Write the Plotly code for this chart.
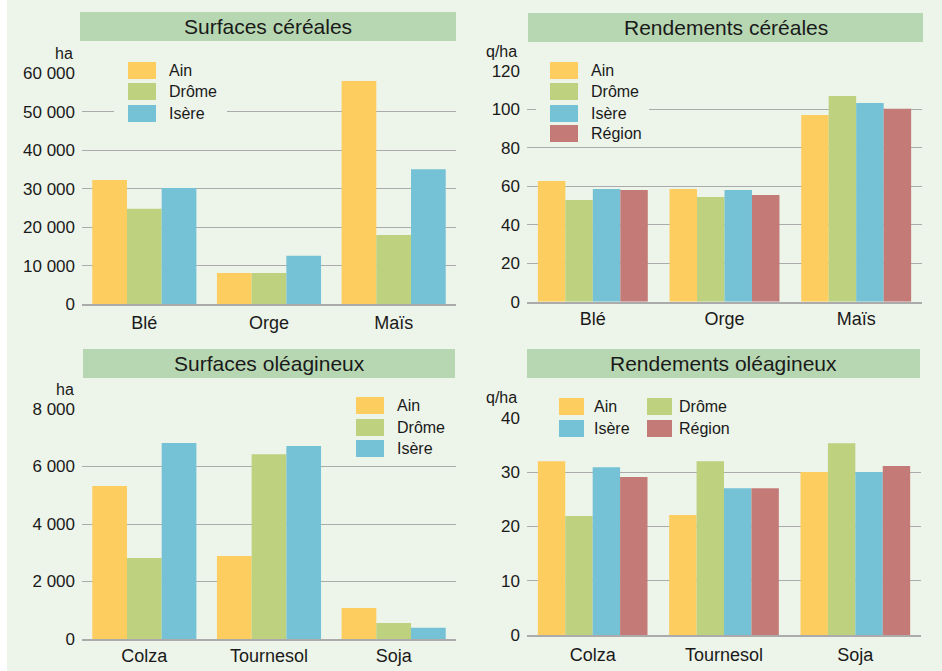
import plotly.graph_objects as go

# ---------------- data ----------------
cereals = ["Blé", "Orge", "Maïs"]
surf_cer_ain = [32300, 8100, 58000]
surf_cer_drome = [24800, 8100, 18000]
surf_cer_isere = [30200, 12600, 35100]

rend_cer_ain = [62.8, 58.6, 97.1]
rend_cer_drome = [52.9, 54.5, 107.0]
rend_cer_isere = [58.6, 58.1, 103.4]
rend_cer_region = [58.1, 55.5, 100.3]

oleag = ["Colza", "Tournesol", "Soja"]
surf_ol_ain = [5320, 2890, 1080]
surf_ol_drome = [2820, 6430, 560]
surf_ol_isere = [6820, 6710, 390]

rend_ol_ain = [32.0, 22.1, 30.0]
rend_ol_drome = [21.9, 32.0, 35.3]
rend_ol_isere = [30.9, 27.0, 30.0]
rend_ol_region = [29.1, 27.0, 31.1]

titles = ["Surfaces céréales", "Rendements céréales", "Surfaces oléagineux", "Rendements oléagineux"]
units = ["ha", "q/ha", "ha", "q/ha"]

# ---------------- styles ----------------
W, H = 942, 671
BG = "#EDF4E9"
TITLE_BG = "#B7D7B2"
GRID = "#ABABAB"
TXT = "#1a1a1a"
FONT = "Liberation Sans, Arial, sans-serif"
COL = {"Ain": "#FDCD5F", "Drôme": "#BDD17F", "Isère": "#75C2D6", "Région": "#C47B78"}


def fx(p):
    return p / W


def fy(p):
    return 1 - p / H


fig = go.Figure()

panels = [
    dict(cats=cereals, series=[("Ain", surf_cer_ain), ("Drôme", surf_cer_drome), ("Isère", surf_cer_isere)],
         x=(82, 456), y=(304.3, 73.3), rng=[0, 60000], dtick=10000, fmt=",d", xoff=1),
    dict(cats=cereals, series=[("Ain", rend_cer_ain), ("Drôme", rend_cer_drome), ("Isère", rend_cer_isere),
                               ("Région", rend_cer_region)],
         x=(527, 922), y=(301.7, 71), rng=[0, 120], dtick=20, fmt="d", xoff=0),
    dict(cats=oleag, series=[("Ain", surf_ol_ain), ("Drôme", surf_ol_drome), ("Isère", surf_ol_isere)],
         x=(82, 456), y=(639, 409), rng=[0, 8000], dtick=2000, fmt=",d", xoff=0),
    dict(cats=oleag, series=[("Ain", rend_ol_ain), ("Drôme", rend_ol_drome), ("Isère", rend_ol_isere),
                             ("Région", rend_ol_region)],
         x=(527, 921), y=(635, 417.7), rng=[0, 40], dtick=10, fmt="d", xoff=3),
]

layout_axes = {}
for i, p in enumerate(panels):
    n = "" if i == 0 else str(i + 1)
    for name, vals in p["series"]:
        fig.add_trace(go.Bar(x=p["cats"], y=vals, name=name, marker=dict(color=COL[name], line=dict(width=0)),
                             xaxis="x" + n, yaxis="y" + n, showlegend=False, offsetgroup=name))
    layout_axes["xaxis" + n] = dict(domain=[fx(p["x"][0]), fx(p["x"][1])], anchor="y" + n,
                                    showgrid=False, showline=True, linecolor=GRID, linewidth=1.5,
                                    ticks="", tickfont=dict(size=18, color=TXT), ticklabelstandoff=p["xoff"],
                                    fixedrange=True, automargin=False)
    layout_axes["yaxis" + n] = dict(domain=[fy(p["y"][0]), fy(p["y"][1])], anchor="x" + n,
                                    range=p["rng"], dtick=p["dtick"], tick0=0, tickformat=p["fmt"],
                                    showgrid=True, gridcolor=GRID, gridwidth=1.3, zeroline=False,
                                    showline=False, ticks="", tickfont=dict(size=17, color=TXT),
                                    ticklabelstandoff=6, fixedrange=True, automargin=False)

shapes = []
annotations = []

# left white strip
shapes.append(dict(type="rect", xref="paper", yref="paper", x0=0, x1=fx(7), y0=0, y1=1,
                   fillcolor="white", line=dict(width=0), layer="below"))

# title boxes
title_boxes = [(80, 456, 12, 41), (528, 923, 13, 42), (83, 455, 349, 378), (527, 920, 349, 378)]
for (x0, x1, y0, y1), t in zip(title_boxes, titles):
    shapes.append(dict(type="rect", xref="paper", yref="paper", x0=fx(x0), x1=fx(x1), y0=fy(y1), y1=fy(y0),
                       fillcolor=TITLE_BG, line=dict(width=0), layer="above"))
    annotations.append(dict(xref="paper", yref="paper", x=fx((x0 + x1) / 2), y=fy((y0 + y1) / 2),
                            text=t, showarrow=False, font=dict(size=21, color=TXT),
                            xanchor="center", yanchor="middle"))

# unit labels
unit_pos = [(75, 53), (519, 52), (76, 389), (519, 397)]
for (ux, uy), u in zip(unit_pos, units):
    annotations.append(dict(xref="paper", yref="paper", x=fx(ux), y=fy(uy), text=u, showarrow=False,
                            font=dict(size=16, color=TXT), xanchor="right", yanchor="middle"))

# legend covers (hide gridlines behind legend)
covers = [(114, 227, 58, 128), (536, 649, 58, 128), (343, 456, 395, 455), (548, 754, 405, 432)]
for x0, x1, y0, y1 in covers:
    shapes.append(dict(type="rect", xref="paper", yref="paper", x0=fx(x0), x1=fx(x1), y0=fy(y1), y1=fy(y0),
                       fillcolor=BG, line=dict(width=0), layer="above"))

# legend items: (name, swatch x0, swatch x1, swatch y0, swatch y1, text x)
legend_items = [
    ("Ain", 128, 156, 62, 79, 167), ("Drôme", 128, 156, 83, 100, 167), ("Isère", 128, 156, 105, 122, 167),
    ("Ain", 550, 578, 62, 79, 589), ("Drôme", 550, 578, 83, 100, 589), ("Isère", 550, 578, 105, 122, 589),
    ("Région", 550, 578, 125, 142, 589),
    ("Ain", 356, 384, 397, 414, 395), ("Drôme", 356, 384, 419, 436, 395), ("Isère", 356, 384, 440, 457, 395),
    ("Ain", 559, 584, 398, 415, 592), ("Drôme", 647, 672, 398, 415, 677),
    ("Isère", 559, 584, 420, 437, 592), ("Région", 647, 672, 420, 437, 677),
]
for name, x0, x1, y0, y1, tx in legend_items:
    shapes.append(dict(type="rect", xref="paper", yref="paper", x0=fx(x0), x1=fx(x1), y0=fy(y1), y1=fy(y0),
                       fillcolor=COL[name], line=dict(width=0), layer="above"))
    annotations.append(dict(xref="paper", yref="paper", x=fx(tx), y=fy((y0 + y1) / 2), text=name,
                            showarrow=False, font=dict(size=16, color=TXT), xanchor="left", yanchor="middle"))

fig.update_layout(
    width=W, height=H, autosize=False,
    margin=dict(l=0, r=0, t=0, b=0, pad=0, autoexpand=False),
    paper_bgcolor=BG, plot_bgcolor=BG,
    font=dict(family=FONT, color=TXT),
    barmode="group", bargap=0.165, bargroupgap=0,
    separators=", ",
    shapes=shapes, annotations=annotations,
    showlegend=False,
    **layout_axes,
)

fig.write_html("out.html", config={"displayModeBar": False},
               post_script="document.body.style.margin='0px';document.body.style.overflow='hidden';")
